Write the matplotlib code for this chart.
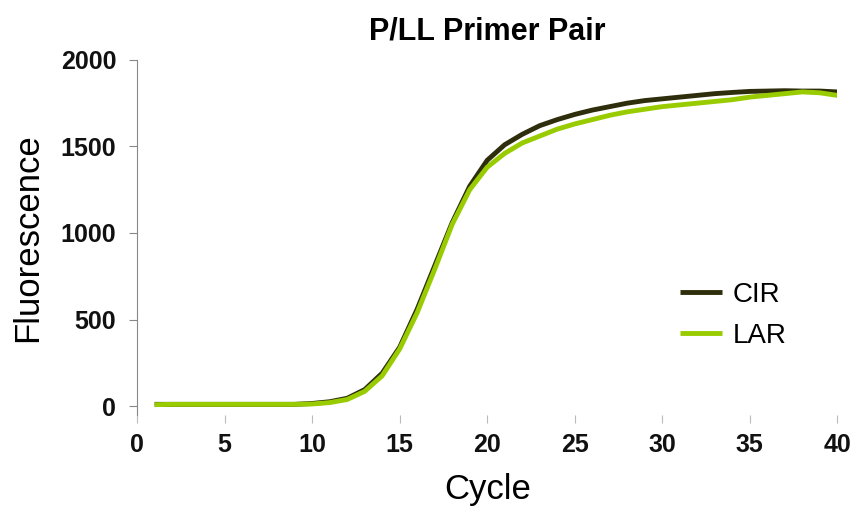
import numpy as np
import matplotlib
matplotlib.use('Agg')
import matplotlib.pyplot as plt

# Data
cycle = list(range(1, 41))
cir = [10, 10, 10, 10, 10, 10, 10, 10, 10, 15,
       25, 45, 95, 190, 340, 560, 810, 1060, 1270, 1420,
       1510, 1570, 1620, 1655, 1685, 1710, 1730, 1750, 1765, 1775,
       1785, 1795, 1805, 1812, 1818, 1820, 1822, 1820, 1820, 1815]
lar = [8, 10, 10, 10, 10, 10, 10, 10, 10, 12,
       20, 38, 85, 175, 330, 540, 790, 1050, 1250, 1380,
       1460, 1520, 1560, 1600, 1630, 1655, 1680, 1700, 1715, 1730,
       1740, 1750, 1760, 1770, 1785, 1795, 1805, 1815, 1810, 1795]

xticks = [0, 5, 10, 15, 20, 25, 30, 35, 40]
yticks = [0, 500, 1000, 1500, 2000]

plt.rcParams['font.family'] = ['Liberation Sans', 'DejaVu Sans']

fig = plt.figure(figsize=(8.57, 5.12), dpi=100, facecolor='w')
ax = fig.add_axes([0.16, 0.19, 0.817, 0.693])

ax.plot(cycle, cir, color='#2e2e0c', lw=3.5, label='CIR', solid_capstyle='butt')
ax.plot(cycle, lar, color='#99cc00', lw=3.5, label='LAR', solid_capstyle='butt')

ax.set_xlim(0, 40)
ax.set_ylim(-50, 2000)
ax.set_xticks(xticks)
ax.set_yticks(yticks)
ax.tick_params(axis='both', labelsize=18, length=6, width=0.8)
ax.tick_params(axis='x', colors='#bbbbbb', labelcolor='#111111', pad=7)
ax.tick_params(axis='y', colors='#888888', labelcolor='#111111', pad=9)
for lbl in ax.get_xticklabels() + ax.get_yticklabels():
    lbl.set_fontweight('bold')

for s in ['top', 'right', 'bottom']:
    ax.spines[s].set_visible(False)
ax.spines['left'].set_color('#888888')

ax.set_xlabel('Cycle', fontsize=25, labelpad=12)
ax.set_ylabel('Fluorescence', fontsize=25, labelpad=12)
ax.set_title('P/LL Primer Pair', fontsize=22, fontweight='bold', pad=15)

ax.legend(loc='center left', bbox_to_anchor=(0.74, 0.28), frameon=False,
          fontsize=20, handlelength=1.5, handletextpad=0.4, labelspacing=0.55)

plt.savefig('out.png', dpi=100)
